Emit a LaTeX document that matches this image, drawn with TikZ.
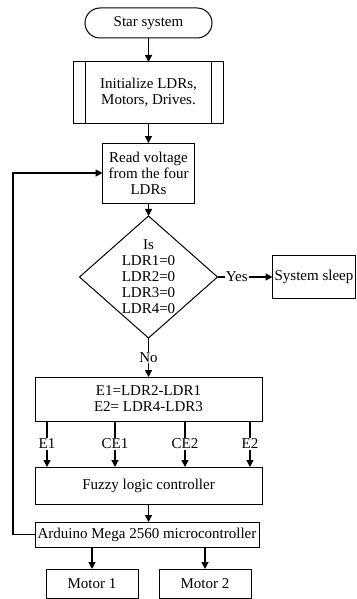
\documentclass[tikz,border=0pt]{standalone}
\usepackage{fontspec}
\setmainfont{Liberation Serif}
\usetikzlibrary{shapes.geometric, arrows.meta, positioning, calc}
\tikzset{
  startStop/.style = {rectangle, rounded corners=15pt, draw, line width=1pt,
    minimum width=127pt, minimum height=30pt, align=center},
  predef/.style = {rectangle, draw, line width=1pt,
    minimum width=150pt, minimum height=61pt, align=center},
  process/.style = {rectangle, draw, line width=1pt, inner xsep=2pt,
    align=center},
  decision/.style = {diamond, aspect=1.12, draw, line width=1pt,
    minimum width=138pt, minimum height=122pt, inner sep=0pt, align=center},
  ok/.style = {-{Triangle[length=7pt,width=7pt]}, line width=1.3pt},
  lbl/.style = {fill=white, inner sep=1pt},
}

\begin{document}
\begin{tikzpicture}[x=1pt, y=1pt, every node/.style={align=center, outer sep=0pt, font=\fontsize{15}{16}\selectfont}]
\useasboundingbox (0,0) rectangle (356,-599);

\node[startStop] (n1) at (148.5,-23) {Star system};
\node[predef, below=24pt of n1] (n2) {Initialize LDRs,\\Motors, Drives.};
\node[process, below=20pt of n2, minimum width=92pt, minimum height=60pt] (n3) {Read voltage\\from the four\\LDRs};
\node[decision, below=13pt of n3] (n4) {Is\\LDR1=0\\LDR2=0\\LDR3=0\\LDR4=0};
\node[process, right=55pt of n4, minimum width=83pt, minimum height=43pt] (n5) {System sleep};
\node[process, below=39pt of n4, minimum width=227pt, minimum height=44pt] (n6) {E1=LDR2-LDR1\\E2= LDR4-LDR3};
\node[process, below=46pt of n6, minimum width=227pt, minimum height=37pt] (n7) {Fuzzy logic controller};
\node[process, below=18pt of n7, xshift=-1.5pt, minimum width=224pt, minimum height=25pt] (n8) {Arduino Mega 2560 microcontroller};
\node[process, below=22pt of n8, xshift=-55pt, minimum width=92pt, minimum height=29pt] (n9) {Motor 1};
\node[process, below=22pt of n8, xshift=58pt, minimum width=92pt, minimum height=29pt] (n10) {Motor 2};

% double sides of the predefined process
\draw[line width=1pt] ([xshift=12pt]n2.north west) -- ([xshift=12pt]n2.south west)
  ([xshift=-12pt]n2.north east) -- ([xshift=-12pt]n2.south east);

\draw[ok] (n1) -- (n2);
\draw[ok] (n2) -- (n3);
\draw[ok] (n3) -- (n4);
\draw[ok] (n4) -- node[lbl, pos=0.35]{Yes} (n5);
\draw[ok] (n4) -- node[lbl]{No} (n6);
\foreach \dx/\lab in {12/E1, 80/CE1, 150/CE2, 215/E2}
  \draw[ok] ([xshift=\dx pt]n6.south west) -- node[lbl]{\lab} ([xshift=\dx pt]n7.north west);
\draw[ok] (n7) -- (n7.south |- n8.north);
\draw[ok] (n8.west) -- ++(-22pt,0) |- (n3.west);
\draw[ok] (n8.south -| n9.north) -- (n9);
\draw[ok] (n8.south -| n10.north) -- (n10);

\end{tikzpicture}
\end{document}
